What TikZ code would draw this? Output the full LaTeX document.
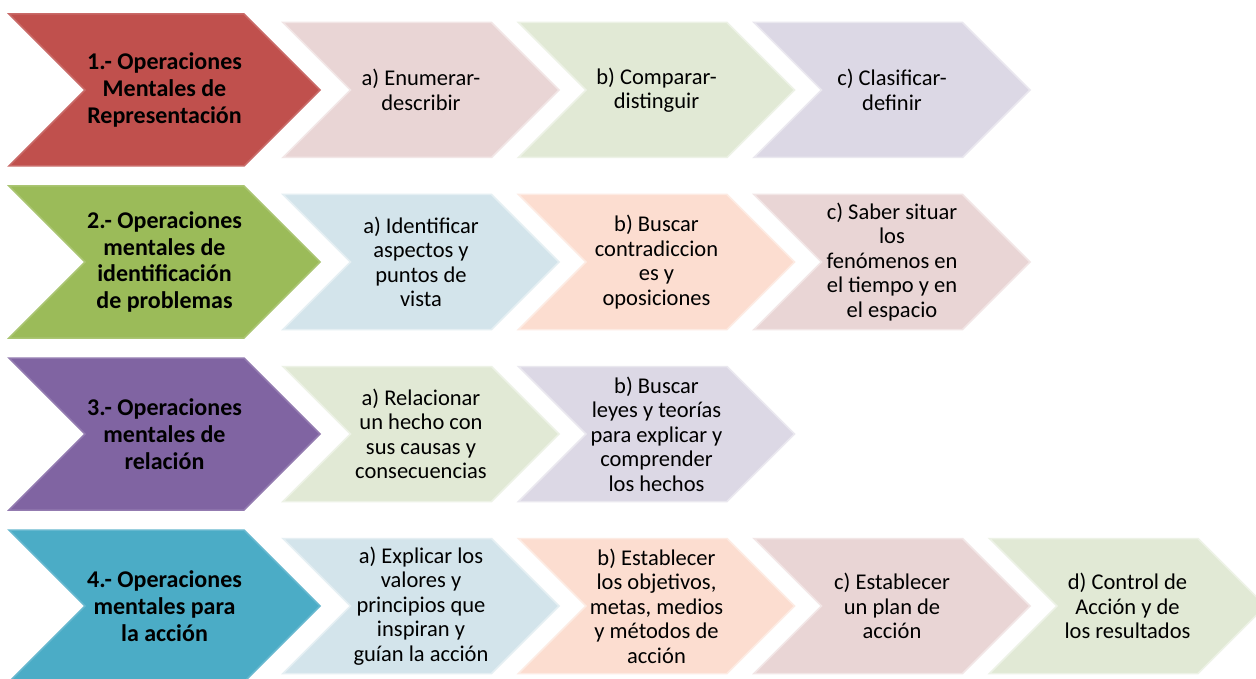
\documentclass[tikz,border=0pt]{standalone}
\usepackage{fontspec}
\setmainfont{Carlito}
\definecolor{cRed}{HTML}{C0504D}
\definecolor{cGreen}{HTML}{9BBB59}
\definecolor{cPurple}{HTML}{8064A2}
\definecolor{cTeal}{HTML}{4BACC6}
\definecolor{lPink}{HTML}{E9D5D5}
\definecolor{lGreen}{HTML}{E1E9D5}
\definecolor{lPurple}{HTML}{DCD8E5}
\definecolor{lBlue}{HTML}{D3E4EB}
\definecolor{lPeach}{HTML}{FCDDD0}
\tikzset{
  mainlabel/.style={font=\fontsize{24}{26.7}\selectfont\bfseries, align=center, text=black, inner sep=0pt},
  sublabel/.style={font=\fontsize{22.5}{24.5}\selectfont, align=center, text=black, inner sep=0pt},
}
% #1 left x, #2 centre y, #3 width, #4 half height, #5 fill colour, #6 border colour
\newcommand\chevronshape[6]{%
  \filldraw[fill=#5, draw=#6, line width=1.5pt, line join=miter]
    (#1,{#2-#4}) -- ({#1+#3-#4},{#2-#4}) -- ({#1+#3},#2) -- ({#1+#3-#4},{#2+#4})
    -- (#1,{#2+#4}) -- ({#1+#4},#2) -- cycle;}
\begin{document}
\begin{tikzpicture}[x=1pt,y=-1pt]
\useasboundingbox (0,0) rectangle (1256,679);
\clip (0,0) rectangle (1256,679);
\fill[white] (0,0) rectangle (1256,679);
% ---------- row 1 ----------
\chevronshape{9}{90}{311}{76}{cRed}{cRed!85!white}
\chevronshape{283}{90}{276}{67.5}{lPink}{lPink!60!white}
\chevronshape{518.5}{90}{276}{67.5}{lGreen}{lGreen!60!white}
\chevronshape{754}{90}{276}{67.5}{lPurple}{lPurple!60!white}
\node[mainlabel] (m1) at (164.5,90) {1.- Operaciones\\Mentales de\\Representación};
\node[sublabel] (r1a) at (421,90) {a) Enumerar-\\describir};
\node[sublabel] (r1b) at (656.5,90) {b) Comparar-\\distinguir};
\node[sublabel] (r1c) at (892,90) {c) Clasificar-\\definir};
% ---------- row 2 ----------
\chevronshape{9}{262}{311}{76}{cGreen}{cGreen!85!white}
\chevronshape{283}{262}{276}{67.5}{lBlue}{lBlue!60!white}
\chevronshape{518.5}{262}{276}{67.5}{lPeach}{lPeach!60!white}
\chevronshape{754}{262}{276}{67.5}{lPink}{lPink!60!white}
\node[mainlabel] (m2) at (164.5,262) {2.- Operaciones\\mentales de\\identificación\\de problemas};
\node[sublabel] (r2a) at (421,262) {a) Identificar\\aspectos y\\puntos de\\vista};
\node[sublabel] (r2b) at (656.5,262) {b) Buscar\\contradiccion\\es y\\oposiciones};
\node[sublabel] (r2c) at (892,262) {c) Saber situar\\los\\fenómenos en\\el tiempo y en\\el espacio};
% ---------- row 3 ----------
\chevronshape{9}{434}{311}{76}{cPurple}{cPurple!85!white}
\chevronshape{283}{434}{276}{67.5}{lGreen}{lGreen!60!white}
\chevronshape{518.5}{434}{276}{67.5}{lPurple}{lPurple!60!white}
\node[mainlabel] (m3) at (164.5,434) {3.- Operaciones\\mentales de\\relación};
\node[sublabel] (r3a) at (421,434) {a) Relacionar\\un hecho con\\sus causas y\\consecuencias};
\node[sublabel] (r3b) at (656.5,434) {b) Buscar\\leyes y teorías\\para explicar y\\comprender\\los hechos};
% ---------- row 4 ----------
\chevronshape{9}{606}{311}{76}{cTeal}{cTeal!85!white}
\chevronshape{283}{606}{276}{67.5}{lBlue}{lBlue!60!white}
\chevronshape{518.5}{606}{276}{67.5}{lPeach}{lPeach!60!white}
\chevronshape{754}{606}{276}{67.5}{lPink}{lPink!60!white}
\chevronshape{989.5}{606}{276}{67.5}{lGreen}{lGreen!60!white}
\node[mainlabel] (m4) at (164.5,606) {4.- Operaciones\\mentales para\\la acción};
\node[sublabel] (r4a) at (421,606) {a) Explicar los\\valores y\\principios que\\inspiran y\\guían la acción};
\node[sublabel] (r4b) at (656.5,606) {b) Establecer\\los objetivos,\\metas, medios\\y métodos de\\acción};
\node[sublabel] (r4c) at (892,606) {c) Establecer\\un plan de\\acción};
\node[sublabel] (r4d) at (1127.5,606) {d) Control de\\Acción y de\\los resultados};
\end{tikzpicture}
\end{document}
